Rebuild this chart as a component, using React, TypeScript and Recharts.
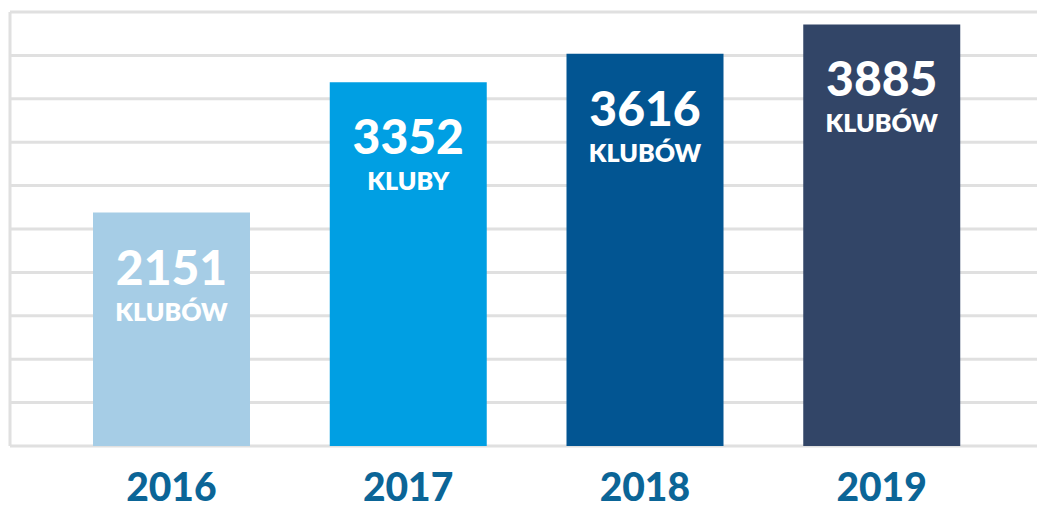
import { BarChart, Bar, XAxis, YAxis, CartesianGrid, Cell, LabelList } from "recharts";

const years = ["2016", "2017", "2018", "2019"];
const clubs = [2151, 3352, 3616, 3885];
const units = ["KLUBÓW", "KLUBY", "KLUBÓW", "KLUBÓW"];
const colors = ["#a6cde6", "#009fe3", "#025592", "#324567"];
const yTicks = [0, 400, 800, 1200, 1600, 2000, 2400, 2800, 3200, 3600, 4000];

const data = years.map((year, i) => ({ year, clubs: clubs[i], unit: units[i] }));

const FONT = "Lato, 'DejaVu Sans', sans-serif";

function YearTick({ x, y, payload }: any) {
  return (
    <text x={x} y={y + 47} textAnchor="middle" fill="#0b6597" fontFamily={FONT} fontWeight={900} fontSize={39}>
      {payload.value}
    </text>
  );
}

function HiddenTick() {
  return <g />;
}

function BarText({ x, y, width, value, index }: any) {
  const cx = x + width / 2;
  return (
    <g>
      <text x={cx} y={y + 72} textAnchor="middle" fill="#fff" fontFamily={FONT} fontWeight={900} fontSize={48}>
        {value}
      </text>
      <text x={cx} y={y + 108} textAnchor="middle" fill="#fff" fontFamily={FONT} fontWeight={800} fontSize={25}>
        {units[index]}
      </text>
    </g>
  );
}

export default function App() {
  return (
    <div style={{ position: "absolute", left: 0, top: 0, background: "#fff" }}>
      <BarChart width={1037} height={508} data={data} margin={{ top: 12, right: 0, left: 9, bottom: 0 }}>
        <CartesianGrid horizontal vertical={false} stroke="#e0e0e0" strokeWidth={3} />
        <XAxis
          dataKey="year"
          height={62}
          axisLine={false}
          tickLine={false}
          tick={<YearTick />}
          padding={{ left: 43, right: 37 }}
          interval={0}
        />
        <YAxis
          width={1}
          domain={[0, 4000]}
          ticks={yTicks}
          interval={0}
          tick={<HiddenTick />}
          tickLine={false}
          axisLine={{ stroke: "#e0e0e0", strokeWidth: 3 }}
        />
        <Bar dataKey="clubs" barSize={157} isAnimationActive={false}>
          {data.map((d, i) => (
            <Cell key={d.year} fill={colors[i]} />
          ))}
          <LabelList dataKey="clubs" content={<BarText />} />
        </Bar>
      </BarChart>
    </div>
  );
}
